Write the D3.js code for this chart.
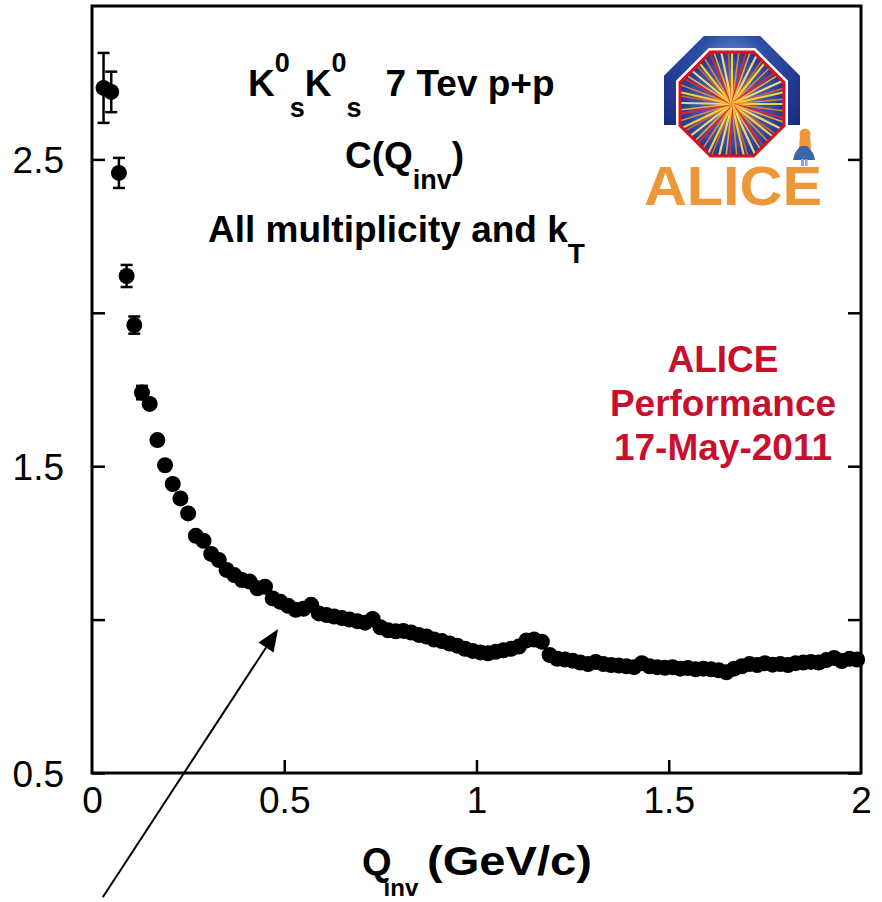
<!DOCTYPE html>
<html>
<head>
<meta charset="utf-8">
<script src="https://cdn.jsdelivr.net/npm/d3@7"></script>
<style>
  html, body { margin: 0; padding: 0; background: #fff; }
  svg { display: block; font-family: "Liberation Sans", Arial, Helvetica, sans-serif; }
</style>
</head>
<body>
<svg id="chart" width="882" height="902"></svg>
<script>
// K0s K0s correlation function C(Qinv), 7 TeV p+p
const qinv = [
  0.03, 0.05, 0.07, 0.09, 0.11, 0.13, 0.15, 0.17, 0.19, 0.21,
  0.23, 0.25, 0.27, 0.29, 0.31, 0.33, 0.35, 0.37, 0.39, 0.41,
  0.43, 0.45, 0.47, 0.49, 0.51, 0.53, 0.55, 0.57, 0.59, 0.61,
  0.63, 0.65, 0.67, 0.69, 0.71, 0.73, 0.75, 0.77, 0.79, 0.81,
  0.83, 0.85, 0.87, 0.89, 0.91, 0.93, 0.95, 0.97, 0.99, 1.01,
  1.03, 1.05, 1.07, 1.09, 1.11, 1.13, 1.15, 1.17, 1.19, 1.21,
  1.23, 1.25, 1.27, 1.29, 1.31, 1.33, 1.35, 1.37, 1.39, 1.41,
  1.43, 1.45, 1.47, 1.49, 1.51, 1.53, 1.55, 1.57, 1.59, 1.61,
  1.63, 1.65, 1.67, 1.69, 1.71, 1.73, 1.75, 1.77, 1.79, 1.81,
  1.83, 1.85, 1.87, 1.89, 1.91, 1.93, 1.95, 1.97, 1.99
];
const corr = [
  2.733, 2.720, 2.456, 2.120, 1.960, 1.740, 1.703, 1.585, 1.503, 1.442,
  1.395, 1.346, 1.273, 1.257, 1.214, 1.194, 1.162, 1.145, 1.129, 1.124,
  1.102, 1.107, 1.069, 1.058, 1.045, 1.032, 1.035, 1.048, 1.020, 1.015,
  1.010, 1.005, 1.000, 0.995, 0.990, 1.002, 0.975, 0.965, 0.962, 0.963,
  0.958, 0.950, 0.945, 0.935, 0.930, 0.922, 0.915, 0.905, 0.898, 0.893,
  0.890, 0.895, 0.900, 0.905, 0.912, 0.932, 0.935, 0.928, 0.885, 0.872,
  0.870, 0.866, 0.860, 0.855, 0.862, 0.855, 0.852, 0.850, 0.848, 0.845,
  0.858, 0.848, 0.845, 0.843, 0.845, 0.840, 0.842, 0.838, 0.840, 0.838,
  0.835, 0.828, 0.840, 0.848, 0.855, 0.852, 0.858, 0.853, 0.855, 0.852,
  0.858, 0.860, 0.862, 0.860, 0.868, 0.875, 0.865, 0.872, 0.870
];
// statistical errors (only the lowest bins stick out beyond the markers)
const corrErr = [
  0.114, 0.066, 0.049, 0.036, 0.028, 0.022, 0.020, 0.018, 0.016, 0.015,
  0.014, 0.013, 0.012, 0.012, 0.011, 0.011, 0.010, 0.010, 0.010, 0.009,
  0.009, 0.009, 0.009, 0.008, 0.008, 0.008, 0.008, 0.008, 0.008, 0.007,
  0.007, 0.007, 0.007, 0.007, 0.007, 0.007, 0.007, 0.006, 0.006, 0.006,
  0.006, 0.006, 0.006, 0.006, 0.006, 0.006, 0.006, 0.006, 0.006, 0.006,
  0.006, 0.006, 0.006, 0.006, 0.006, 0.006, 0.006, 0.006, 0.006, 0.006,
  0.006, 0.006, 0.006, 0.006, 0.006, 0.006, 0.006, 0.006, 0.006, 0.006,
  0.006, 0.006, 0.006, 0.006, 0.006, 0.006, 0.006, 0.006, 0.006, 0.006,
  0.006, 0.006, 0.006, 0.006, 0.006, 0.006, 0.006, 0.006, 0.006, 0.006,
  0.006, 0.006, 0.006, 0.006, 0.006, 0.006, 0.006, 0.006, 0.006
];

const xTicks = [0, 0.5, 1, 1.5, 2];
const yTicks = [0.5, 1, 1.5, 2, 2.5];
const yLabelled = [0.5, 1.5, 2.5];

// annotation arrow, in data units (tail -> head)
const arrowFrom = [0.028, 0.095];
const arrowTo = [0.484, 0.969];

const svg = d3.select("#chart");
const W = 882, H = 902;
const plot = { left: 92, right: 861, top: 6, bottom: 773 };

const x = d3.scaleLinear().domain([0, 2]).range([plot.left, plot.right]);
const y = d3.scaleLinear().domain([0.5, 3.0]).range([plot.bottom, plot.top]);

svg.append("rect").attr("width", W).attr("height", H).attr("fill", "#fff");

// ---------- ALICE logo ----------
const logo = svg.append("g").attr("class", "logo");
const defs = svg.append("defs");
const gArch = defs.append("radialGradient").attr("id", "archGrad")
  .attr("cx", "50%").attr("cy", "22%").attr("r", "65%");
gArch.append("stop").attr("offset", "0%").attr("stop-color", "#6d95d8");
gArch.append("stop").attr("offset", "40%").attr("stop-color", "#2d4ea6");
gArch.append("stop").attr("offset", "100%").attr("stop-color", "#172a80");
const gCore = defs.append("radialGradient").attr("id", "coreGrad")
  .attr("cx", "50%").attr("cy", "50%").attr("r", "60%");
gCore.append("stop").attr("offset", "0%").attr("stop-color", "#e8a040");
gCore.append("stop").attr("offset", "25%").attr("stop-color", "#5a6fc0");
gCore.append("stop").attr("offset", "100%").attr("stop-color", "#1e3590");

const cx = 732, cy = 104;
function octagon(half) {
  const R = half / Math.cos(Math.PI / 8);
  const pts = d3.range(8).map(i => {
    const a = Math.PI / 8 + i * Math.PI / 4;
    return [cx + R * Math.cos(a), cy + R * Math.sin(a)];
  });
  return "M" + pts.map(p => p.join(",")).join("L") + "Z";
}
defs.append("clipPath").attr("id", "archClip")
  .append("rect").attr("x", 600).attr("y", 0).attr("width", 260).attr("height", 125);
defs.append("clipPath").attr("id", "coreClip")
  .append("path").attr("d", octagon(50.5));

logo.append("path").attr("d", octagon(68)).attr("fill", "url(#archGrad)")
  .attr("clip-path", "url(#archClip)");
logo.append("path").attr("d", octagon(56)).attr("fill", "#fff");
logo.append("path").attr("d", octagon(53.5)).attr("fill", "#d4141e");
const core = logo.append("g").attr("clip-path", "url(#coreClip)");
core.append("path").attr("d", octagon(50.5)).attr("fill", "url(#coreGrad)");
const rayColours = ["#f7d836", "#ef8a2c", "#d9283a", "#f3b43a", "#f7e070", "#e5602c"];
d3.range(56).forEach(i => {
  const a = i * 2 * Math.PI / 56 + (i % 3) * 0.02;
  core.append("line")
    .attr("x1", cx).attr("y1", cy)
    .attr("x2", cx + 80 * Math.cos(a)).attr("y2", cy + 80 * Math.sin(a))
    .attr("stroke", rayColours[i % rayColours.length])
    .attr("stroke-width", i % 2 ? 1.6 : 2.2)
    .attr("opacity", 0.95);
});

logo.append("text").attr("x", 644).attr("y", 205)
  .attr("font-size", 55).attr("font-weight", "bold").attr("fill", "#ec983a")
  .attr("textLength", 178).attr("lengthAdjust", "spacingAndGlyphs")
  .text("ALICE");

// little figure sitting on the E
const girl = logo.append("g");
girl.append("circle").attr("cx", 805).attr("cy", 134).attr("r", 5.5).attr("fill", "#ec983a");
girl.append("path").attr("d", "M800,134 L799,149 L811,149 L810,134 Z").attr("fill", "#ec983a");
girl.append("path").attr("d", "M793,160 Q795,150 801,146 L807,146 Q814,152 815,160 Z").attr("fill", "#3866a8");
girl.append("rect").attr("x", 801).attr("y", 159).attr("width", 3).attr("height", 7).attr("fill", "#7fa8d8");
girl.append("rect").attr("x", 805).attr("y", 159).attr("width", 2.5).attr("height", 7).attr("fill", "#7fa8d8");

// ---------- frame ----------
svg.append("rect")
  .attr("x", plot.left).attr("y", plot.top)
  .attr("width", plot.right - plot.left).attr("height", plot.bottom - plot.top)
  .attr("fill", "none").attr("stroke", "#000").attr("stroke-width", 3);

// ---------- axes ----------
const fmt = d3.format("");
const xAxis = d3.axisBottom(x).tickValues(xTicks).tickSizeInner(-13).tickSizeOuter(0).tickPadding(14)
  .tickFormat(d => fmt(d));
const yAxis = d3.axisLeft(y).tickValues(yTicks).tickSizeInner(-13).tickSizeOuter(0).tickPadding(28)
  .tickFormat(d => yLabelled.includes(d) ? d3.format(".1f")(d) : "");
const yAxisR = d3.axisRight(y).tickValues(yTicks).tickSizeInner(-13).tickSizeOuter(0).tickFormat("");

function styleAxis(g) {
  g.select(".domain").remove();
  g.selectAll(".tick line").attr("stroke", "#000").attr("stroke-width", 2.5);
  g.selectAll(".tick text").attr("fill", "#000").attr("font-size", 37)
    .attr("font-family", "'Liberation Sans', Arial, sans-serif");
}
svg.append("g").attr("transform", `translate(0,${plot.bottom})`).call(xAxis).call(styleAxis)
  .selectAll(".tick").filter(d => d === 0 || d === 2).select("line").remove();
svg.append("g").attr("transform", `translate(${plot.left},0)`).call(yAxis).call(styleAxis)
  .selectAll(".tick text").attr("dy", "0.36em");
svg.append("g").attr("transform", `translate(${plot.right},0)`).call(yAxisR).call(styleAxis);

// ---------- data ----------
const pts = qinv.map((q, i) => ({ q, c: corr[i], e: corrErr[i] }));
const err = svg.append("g").attr("stroke", "#000").attr("stroke-width", 2.5);
pts.filter(d => d.e > 0.02).forEach(d => {
  const px = x(d.q);
  err.append("line").attr("x1", px).attr("x2", px).attr("y1", y(d.c - d.e)).attr("y2", y(d.c + d.e));
  err.append("line").attr("x1", px - 6).attr("x2", px + 6).attr("y1", y(d.c - d.e)).attr("y2", y(d.c - d.e));
  err.append("line").attr("x1", px - 6).attr("x2", px + 6).attr("y1", y(d.c + d.e)).attr("y2", y(d.c + d.e));
});
svg.append("g").selectAll("circle").data(pts).join("circle")
  .attr("cx", d => x(d.q)).attr("cy", d => y(d.c)).attr("r", 8).attr("fill", "#000");

// ---------- text ----------
const t1 = svg.append("text").attr("x", 248).attr("y", 96).attr("font-size", 37).attr("font-weight", "bold");
t1.append("tspan").text("K");
t1.append("tspan").attr("font-size", 27).attr("dy", -24).text("0");
t1.append("tspan").attr("font-size", 27).attr("dy", 45).text("s");
t1.append("tspan").attr("dy", -21).text("K");
t1.append("tspan").attr("font-size", 27).attr("dy", -24).text("0");
t1.append("tspan").attr("font-size", 27).attr("dy", 45).text("s");
t1.append("tspan").attr("dy", -21).attr("dx", 24).text("7 Tev p+p");

const t2 = svg.append("text").attr("x", 345).attr("y", 168).attr("font-size", 37).attr("font-weight", "bold");
t2.append("tspan").text("C(Q");
t2.append("tspan").attr("font-size", 27).attr("dy", 21).text("inv");
t2.append("tspan").attr("dy", -21).text(")");

const t3 = svg.append("text").attr("x", 208).attr("y", 242).attr("font-size", 37).attr("font-weight", "bold");
t3.append("tspan").text("All multiplicity and k");
t3.append("tspan").attr("font-size", 28).attr("dy", 21).text("T");

const red = svg.append("g").attr("fill", "#c8102e").attr("font-size", 37).attr("font-weight", "bold")
  .attr("text-anchor", "middle");
[["ALICE", 372], ["Performance", 416], ["17-May-2011", 460]].forEach(([s, yy]) =>
  red.append("text").attr("x", 723).attr("y", yy).text(s));

// axis title: Q_inv (GeV/c)
const xt = svg.append("g").attr("font-weight", "bold");
const xq = xt.append("text").attr("x", 362).attr("y", 875).attr("font-size", 38);
xq.append("tspan").text("Q");
xq.append("tspan").attr("font-size", 24).attr("dy", 21).attr("dx", -8).text("inv");
xt.append("text").attr("x", 427).attr("y", 875).attr("font-size", 40)
  .attr("textLength", 165).attr("lengthAdjust", "spacingAndGlyphs").text("(GeV/c)");

// ---------- arrow ----------
const ax0 = x(arrowFrom[0]), ay0 = y(arrowFrom[1]), ax1 = x(arrowTo[0]), ay1 = y(arrowTo[1]);
const ang = Math.atan2(ay1 - ay0, ax1 - ax0);
const headLen = 22, headHalf = 9;
const bx = ax1 - headLen * Math.cos(ang), by = ay1 - headLen * Math.sin(ang);
svg.append("line").attr("x1", ax0).attr("y1", ay0).attr("x2", bx).attr("y2", by)
  .attr("stroke", "#000").attr("stroke-width", 2);
svg.append("path")
  .attr("d", `M${ax1},${ay1}L${bx + headHalf * Math.sin(ang)},${by - headHalf * Math.cos(ang)}L${bx - headHalf * Math.sin(ang)},${by + headHalf * Math.cos(ang)}Z`)
  .attr("fill", "#000");
</script>
</body>
</html>
